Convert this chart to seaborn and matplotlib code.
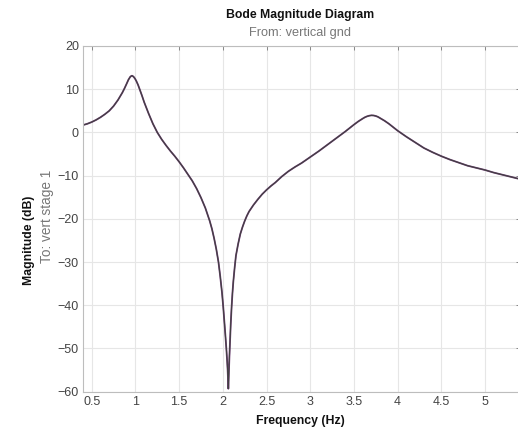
import numpy as np
import pandas as pd
import matplotlib
matplotlib.use('Agg')
import matplotlib.pyplot as plt
import seaborn as sns

# values
freq_hz = [0.40, 0.45, 0.50, 0.55, 0.60, 0.65, 0.70, 0.75, 0.80, 0.85,
           0.875, 0.90, 0.92, 0.94, 0.955, 0.965, 0.98, 0.995, 1.01, 1.03,
           1.05, 1.075, 1.10, 1.125, 1.15, 1.175, 1.20, 1.25, 1.30, 1.35,
           1.40, 1.45, 1.50, 1.55, 1.60, 1.65, 1.70, 1.75, 1.80, 1.85,
           1.875, 1.90, 1.925, 1.95, 1.97, 1.99, 2.005, 2.02, 2.03, 2.04,
           2.048, 2.055, 2.06, 2.063, 2.066, 2.07, 2.075, 2.08, 2.09, 2.10,
           2.11, 2.12, 2.135, 2.15, 2.175, 2.20, 2.225, 2.25, 2.275, 2.30,
           2.35, 2.40, 2.45, 2.50, 2.55, 2.60, 2.675, 2.75, 2.825, 2.90,
           2.95, 3.00, 3.05, 3.10, 3.15, 3.20, 3.25, 3.30, 3.35, 3.40,
           3.45, 3.50, 3.55, 3.60, 3.625, 3.65, 3.675, 3.70, 3.725, 3.75,
           3.775, 3.80, 3.85, 3.90, 3.95, 4.00, 4.05, 4.10, 4.15, 4.20,
           4.25, 4.30, 4.35, 4.40, 4.45, 4.50, 4.55, 4.60, 4.70, 4.80,
           4.90, 5.00, 5.10, 5.20, 5.30, 5.40]
mag_db = [1.7, 2.0, 2.4, 2.9, 3.5, 4.2, 5.0, 6.1, 7.5, 9.2,
          10.2, 11.3, 12.2, 12.85, 13.1, 13.1, 12.85, 12.45, 11.9, 11.0,
          9.9, 8.5, 7.0, 5.7, 4.4, 3.2, 2.0, 0.0, -1.6, -3.0,
          -4.3, -5.5, -6.8, -8.2, -9.7, -11.2, -13.0, -15.1, -17.5, -20.5,
          -22.3, -24.5, -27.0, -30.0, -33.3, -37.0, -40.5, -44.5, -47.2, -50.0,
          -52.5, -55.0, -57.5, -59.3, -57.5, -55.0, -52.0, -49.5, -44.5, -40.5,
          -37.2, -34.5, -31.3, -28.5, -25.8, -23.5, -21.9, -20.5, -19.3, -18.3,
          -16.8, -15.5, -14.3, -13.3, -12.4, -11.6, -10.2, -9.0, -8.0, -7.1,
          -6.4, -5.7, -5.0, -4.3, -3.55, -2.8, -2.05, -1.3, -0.55, 0.2,
          1.0, 1.8, 2.55, 3.2, 3.5, 3.72, 3.87, 3.95, 3.92, 3.8,
          3.6, 3.3, 2.7, 2.0, 1.2, 0.4, -0.3, -1.0, -1.65, -2.3,
          -2.95, -3.6, -4.1, -4.6, -5.05, -5.5, -5.9, -6.3, -7.0, -7.7,
          -8.2, -8.7, -9.3, -9.8, -10.3, -10.8]

xticks = [0.5, 1, 1.5, 2, 2.5, 3, 3.5, 4, 4.5, 5]
xtick_labels = ['0.5', '1', '1.5', '2', '2.5', '3', '3.5', '4', '4.5', '5']
yticks = [20, 10, 0, -10, -20, -30, -40, -50, -60]

df = pd.DataFrame({'Frequency': freq_hz, 'Magnitude': mag_db})

sns.set_style('whitegrid', {'grid.color': '#e6e6e6', 'axes.edgecolor': '#bdbdbd'})
plt.rcParams['font.family'] = ['Liberation Sans', 'DejaVu Sans']

fig = plt.figure(figsize=(5.18, 4.33), dpi=100)
ax = fig.add_axes([83 / 518, 1 - 391.7 / 433, 437 / 518, (391.7 - 46) / 433])

sns.lineplot(data=df, x='Frequency', y='Magnitude', ax=ax, color='#74407a', lw=1.3)
sns.lineplot(data=df, x='Frequency', y='Magnitude', ax=ax, color='#404040', lw=0.8)

ax.set_xlim(0.4, 5.4)
ax.set_ylim(-60, 20)
ax.set_xticks(xticks)
ax.set_xticklabels(xtick_labels)
ax.set_yticks(yticks)
ax.tick_params(direction='in', length=3, width=0.6, color='#777777',
               labelsize=9, labelcolor='#444444', top=True, right=True, pad=3)
ax.grid(True, lw=0.8)
for s in ax.spines.values():
    s.set_linewidth(0.8)
ax.set_xlabel('')
ax.set_ylabel('')

fig.text(300 / 518, 1 - 15 / 433, 'Bode Magnitude Diagram', ha='center', va='center',
         fontsize=8.8, fontweight='bold', color='#111111')
fig.text(300 / 518, 1 - 33 / 433, 'From: vertical gnd', ha='center', va='center',
         fontsize=9.2, color='#777777')
fig.text(300 / 518, 1 - 421 / 433, 'Frequency (Hz)', ha='center', va='center',
         fontsize=8.8, fontweight='bold', color='#111111')
fig.text(29 / 518, 1 - 240 / 433, 'Magnitude (dB)', ha='center', va='center',
         rotation=90, fontsize=8.8, fontweight='bold', color='#111111')
fig.text(47 / 518, 1 - 216 / 433, 'To: vert stage 1', ha='center', va='center',
         rotation=90, fontsize=9.8, color='#777777')

fig.savefig('out.png', dpi=100)
